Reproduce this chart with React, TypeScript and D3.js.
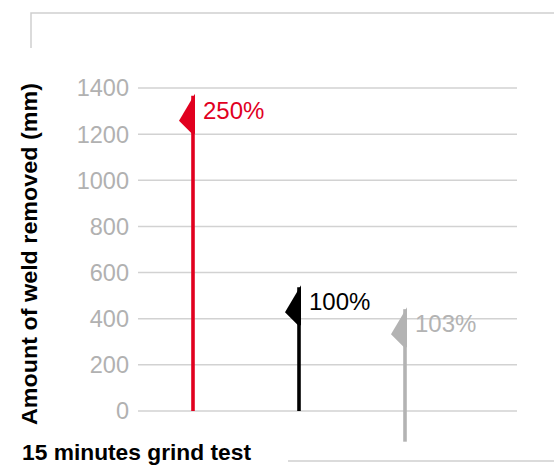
import React from "react";
import * as d3 from "d3";

const categories = ["Product A", "Product B", "Product C"];
const topValues = [1375, 545, 450];
const baseValues = [0, 0, -133];
const pctLabels = ["250%", "100%", "103%"];
const colors = ["#e1001f", "#000000", "#b3b3b3"];
const yTicks = [0, 200, 400, 600, 800, 1000, 1200, 1400];
const yTitle = "Amount of weld removed (mm)";
const xTitle = "15 minutes grind test";

const W = 554;
const H = 466;
const FONT = "'Liberation Sans', Arial, sans-serif";

export default function App() {
  const y = d3.scaleLinear().domain([0, 1400]).range([411, 88]);
  const x = d3.scalePoint<string>().domain(categories).range([193, 405]);
  const gridX0 = 138;
  const gridX1 = 517;

  return (
    <svg
      width={W}
      height={H}
      style={{ position: "fixed", top: 0, left: 0, background: "#fff" }}
    >
      <path d={`M31,48 V13 H${W}`} fill="none" stroke="#cfcfcf" strokeWidth={1.5} />
      <line x1={288} x2={W} y1={461} y2={461} stroke="#cfcfcf" strokeWidth={1.5} />

      {yTicks.map((t) => (
        <g key={t}>
          <line x1={gridX0} x2={gridX1} y1={y(t)} y2={y(t)} stroke="#d2d2d2" strokeWidth={1.5} />
          <text
            x={129}
            y={y(t)}
            dy="0.36em"
            textAnchor="end"
            fill="#b1b1b1"
            fontFamily={FONT}
            fontSize={23.5}
          >
            {t}
          </text>
        </g>
      ))}

      {categories.map((c, i) => {
        const cx = x(c) as number;
        const top = y(topValues[i]);
        const base = y(baseValues[i]);
        const flag = `M${cx + 2},${top} L${cx - 14},${top + 27} L${cx - 1},${top + 40} L${cx + 2},${top + 40} Z`;
        return (
          <g key={c}>
            <line x1={cx} x2={cx} y1={base} y2={top + 2} stroke={colors[i]} strokeWidth={3.6} />
            <path d={flag} fill={colors[i]} />
            <text
              x={cx + 10}
              y={top + 25}
              fill={colors[i]}
              fontFamily={FONT}
              fontSize={24}
            >
              {pctLabels[i]}
            </text>
          </g>
        );
      })}

      <text
        transform="translate(37,254) rotate(-90)"
        textAnchor="middle"
        fontFamily={FONT}
        fontWeight="bold"
        fontSize={22.5}
        fill="#000"
        textLength={342}
        lengthAdjust="spacingAndGlyphs"
      >
        {yTitle}
      </text>
      <text
        x={22}
        y={460}
        fontFamily={FONT}
        fontWeight="bold"
        fontSize={21.5}
        fill="#000"
        textLength={229}
        lengthAdjust="spacingAndGlyphs"
      >
        {xTitle}
      </text>
    </svg>
  );
}
